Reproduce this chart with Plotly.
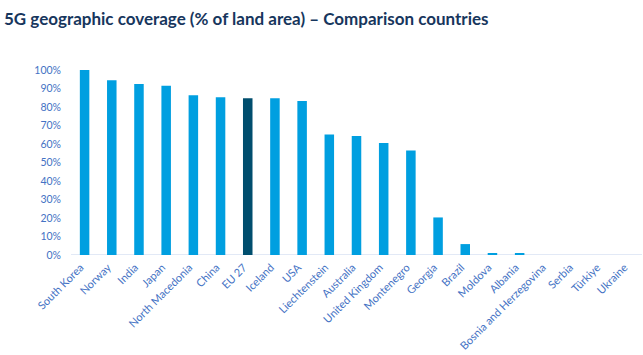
import plotly.graph_objects as go

countries = ["South Korea", "Norway", "India", "Japan", "North Macedonia", "China", "EU 27",
             "Iceland", "USA", "Liechtenstein", "Australia", "United Kingdom", "Montenegro",
             "Georgia", "Brazil", "Moldova", "Albania", "Bosnia and Herzegovina", "Serbia",
             "Türkiye", "Ukraine"]
coverage = [100, 94.4, 92.5, 91.5, 86.3, 85.3, 84.7, 84.7, 83.3, 65.2, 64.3, 60.6, 56.5,
            20.3, 5.9, 1.1, 0.7, 0, 0, 0, 0]
tick_vals = [0, 10, 20, 30, 40, 50, 60, 70, 80, 90, 100]
tick_text = [f"{v}%" for v in tick_vals]
title_text = "5G geographic coverage (% of land area) – Comparison countries"

highlight = "EU 27"
colors = ["#004E6E" if c == highlight else "#009FE0" for c in countries]

W, H = 643, 355
L, R, T, B = 71, 1, 70, 100
pw, ph = W - L - R, H - T - B

fig = go.Figure(go.Bar(x=countries, y=coverage, marker=dict(color=colors, line=dict(width=0)),
                       hoverinfo="x+y"))

fig.update_layout(
    width=W, height=H,
    margin=dict(l=L, r=R, t=T, b=B, autoexpand=False),
    paper_bgcolor="white", plot_bgcolor="white",
    bargap=0.65,
    showlegend=False,
    font=dict(family="Lato, sans-serif", color="#4472C4", size=11),
)
fig.add_annotation(text=title_text, xref="paper", yref="paper",
                   x=(2 - L) / pw, xanchor="left", y=1 + (T - 18) / ph, yanchor="middle",
                   showarrow=False,
                   font=dict(family="Lato, sans-serif", size=17, color="#17365D", weight="bold"))
fig.update_xaxes(showgrid=False, showline=False, tickangle=-45, ticks="", automargin=False,
                 ticklabelshift=-4, ticklabelstandoff=3,
                 tickfont=dict(size=11, color="#4472C4"))
fig.update_yaxes(range=[0, 100], tickvals=tick_vals, ticktext=tick_text, showgrid=False,
                 zeroline=False, showline=False, ticks="", ticklabelstandoff=9, automargin=False,
                 tickfont=dict(size=10.5, color="#4472C4"))
fig.add_shape(type="line", xref="paper", yref="y", x0=0, x1=1.0, y0=0, y1=0,
              line=dict(color="#D9E2F3", width=1.5), layer="below")

fig.write_html("out.html", config={"displayModeBar": False},
               post_script="document.body.style.margin='0';document.body.style.overflow='hidden';")
